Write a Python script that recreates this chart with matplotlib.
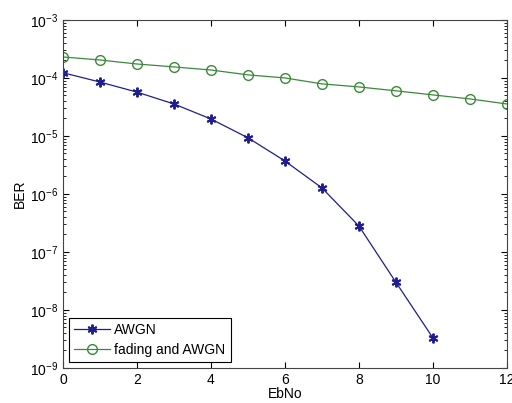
import numpy as np
import matplotlib
matplotlib.use("Agg")
import matplotlib.pyplot as plt
from matplotlib.ticker import LogLocator, NullFormatter

# データ
ebno_awgn = [0, 1, 2, 3, 4, 5, 6, 7, 8, 9, 10]
ber_awgn = [1.23e-4, 8.5e-5, 5.7e-5, 3.56e-5, 1.96e-5, 9.3e-6, 3.7e-6,
            1.27e-6, 2.8e-7, 3.0e-8, 3.3e-9]
ebno_fading = [0, 1, 2, 3, 4, 5, 6, 7, 8, 9, 10, 11, 12]
ber_fading = [2.3e-4, 2.04e-4, 1.74e-4, 1.55e-4, 1.37e-4, 1.13e-4, 1.0e-4,
              7.9e-5, 7.0e-5, 6.0e-5, 5.1e-5, 4.35e-5, 3.56e-5]
xticks = [0, 2, 4, 6, 8, 10, 12]

plt.rcParams['font.family'] = ['Liberation Sans', 'DejaVu Sans']

fig = plt.figure(figsize=(5.12, 4.03), dpi=100)
ax = fig.add_axes([0.123, 0.087, 0.867, 0.8635])

ax.semilogy(ebno_awgn, ber_awgn, color='#1e1e90', marker=(6, 2, 0), markersize=7,
            markeredgewidth=1.4, linewidth=0.9, label='AWGN')
ax.semilogy(ebno_fading, ber_fading, color='#3a8a3a', marker='o', markersize=7,
            markerfacecolor='none', linewidth=0.9, label='fading and AWGN')

ax.set_xlim(0, 12)
ax.set_ylim(1e-9, 1e-3)
ax.set_xticks(xticks)
ax.yaxis.set_major_locator(LogLocator(base=10, numticks=10))
ax.yaxis.set_minor_locator(LogLocator(base=10, subs=np.arange(2, 10), numticks=100))
ax.yaxis.set_minor_formatter(NullFormatter())

ax.tick_params(which='both', direction='in', top=True, right=True, labelsize=10)
ax.tick_params(which='major', length=4)
ax.tick_params(which='minor', length=2)
for s in ax.spines.values():
    s.set_linewidth(0.8)
    s.set_color('#444444')

ax.set_xlabel('EbNo', fontsize=10, labelpad=0)
ax.set_ylabel('BER', fontsize=10, labelpad=2)

leg = ax.legend(loc='lower left', fontsize=10, fancybox=False, framealpha=1,
                edgecolor='black', borderaxespad=0.4, handlelength=2.6,
                borderpad=0.4, labelspacing=0.4, handletextpad=0.3)
leg.get_frame().set_linewidth(0.8)

fig.savefig('out.png', dpi=100)
